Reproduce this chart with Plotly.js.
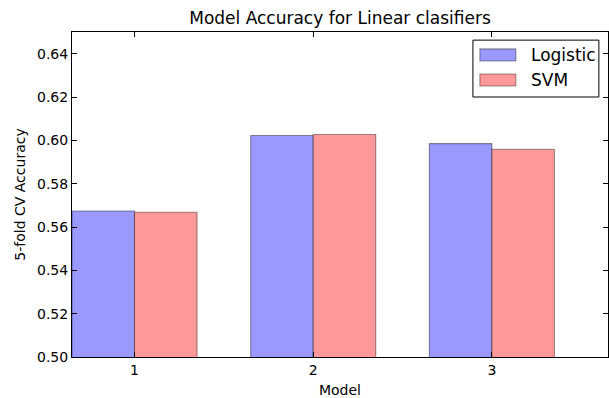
<!DOCTYPE html>
<html>
<head>
<meta charset="utf-8">
<script src="https://cdn.plot.ly/plotly-3.0.1.min.js"></script>
<style>html,body{margin:0;padding:0;background:#fff;}#chart{width:609px;height:398px;}</style>
</head>
<body>
<div id="chart"></div>
<script>
// Data
const models = [1, 2, 3];
const tickLabels = ['1', '2', '3'];
const seriesNames = ['Logistic', 'SVM'];
const logisticAcc = [0.5674, 0.6022, 0.5985];
const svmAcc = [0.5668, 0.6027, 0.5959];
const yTickVals = [0.50, 0.52, 0.54, 0.56, 0.58, 0.60, 0.62, 0.64];
const yTickText = ['0.50', '0.52', '0.54', '0.56', '0.58', '0.60', '0.62', '0.64'];

const colors = ['rgb(153,153,255)', 'rgb(255,153,153)'];
const edge = 'rgba(0,0,0,0.4)';
const FONT = 'DejaVu Sans, sans-serif';

const traces = [
  {type: 'bar', x: models, y: logisticAcc, name: seriesNames[0], offset: -0.35, width: 0.35,
   marker: {color: colors[0], line: {color: edge, width: 1.1}}, showlegend: false, base: 0},
  {type: 'bar', x: models, y: svmAcc, name: seriesNames[1], offset: 0, width: 0.35,
   marker: {color: colors[1], line: {color: edge, width: 1.1}}, showlegend: false, base: 0}
];

// custom legend (matplotlib-like) in paper coordinates
const shapes = [
  {type: 'rect', xref: 'paper', yref: 'paper', x0: 0.748, x1: 0.983, y0: 0.80, y1: 0.975,
   line: {color: 'black', width: 1}, fillcolor: 'white', layer: 'above'},
  {type: 'rect', xref: 'paper', yref: 'paper', x0: 0.761, x1: 0.828, y0: 0.911, y1: 0.948,
   line: {color: edge, width: 1.1}, fillcolor: colors[0], layer: 'above'},
  {type: 'rect', xref: 'paper', yref: 'paper', x0: 0.761, x1: 0.828, y0: 0.834, y1: 0.871,
   line: {color: edge, width: 1.1}, fillcolor: colors[1], layer: 'above'}
];
const annotations = [
  {xref: 'paper', yref: 'paper', x: 0.852, y: 0.929, xanchor: 'left', yanchor: 'middle',
   text: seriesNames[0], showarrow: false, font: {family: FONT, size: 17, color: 'black'}},
  {xref: 'paper', yref: 'paper', x: 0.852, y: 0.853, xanchor: 'left', yanchor: 'middle',
   text: seriesNames[1], showarrow: false, font: {family: FONT, size: 17, color: 'black'}}
];

const axisCommon = {
  showline: true, linecolor: 'black', linewidth: 1, mirror: 'ticks',
  ticks: 'inside', ticklen: 5, tickwidth: 1, tickcolor: 'black',
  showgrid: false, zeroline: false,
  tickfont: {family: FONT, size: 14, color: 'black'}
};

const layout = {
  width: 609, height: 398,
  margin: {l: 72, r: 1, t: 32, b: 41, pad: 0},
  paper_bgcolor: 'white', plot_bgcolor: 'white',
  font: {family: FONT, color: 'black'},
  title: {text: 'Model Accuracy for Linear clasifiers', font: {family: FONT, size: 17, color: 'black'},
          x: 0.5, xref: 'paper', y: 1 - 18/398, yref: 'container', yanchor: 'middle'},
  barmode: 'overlay',
  bargap: 0,
  xaxis: Object.assign({}, axisCommon, {
    range: [0.65, 3.65], tickmode: 'array', tickvals: models, ticktext: tickLabels,
    title: {text: 'Model', font: {family: FONT, size: 14, color: 'black'}, standoff: 8}
  }),
  yaxis: Object.assign({}, axisCommon, {
    range: [0.50, 0.65], tickmode: 'array', tickvals: yTickVals, ticktext: yTickText,
    title: {text: '5-fold CV Accuracy', font: {family: FONT, size: 14, color: 'black'}, standoff: 8}
  }),
  shapes: shapes,
  annotations: annotations,
  showlegend: false
};

Plotly.newPlot('chart', traces, layout, {displayModeBar: false, staticPlot: true});
</script>
</body>
</html>
